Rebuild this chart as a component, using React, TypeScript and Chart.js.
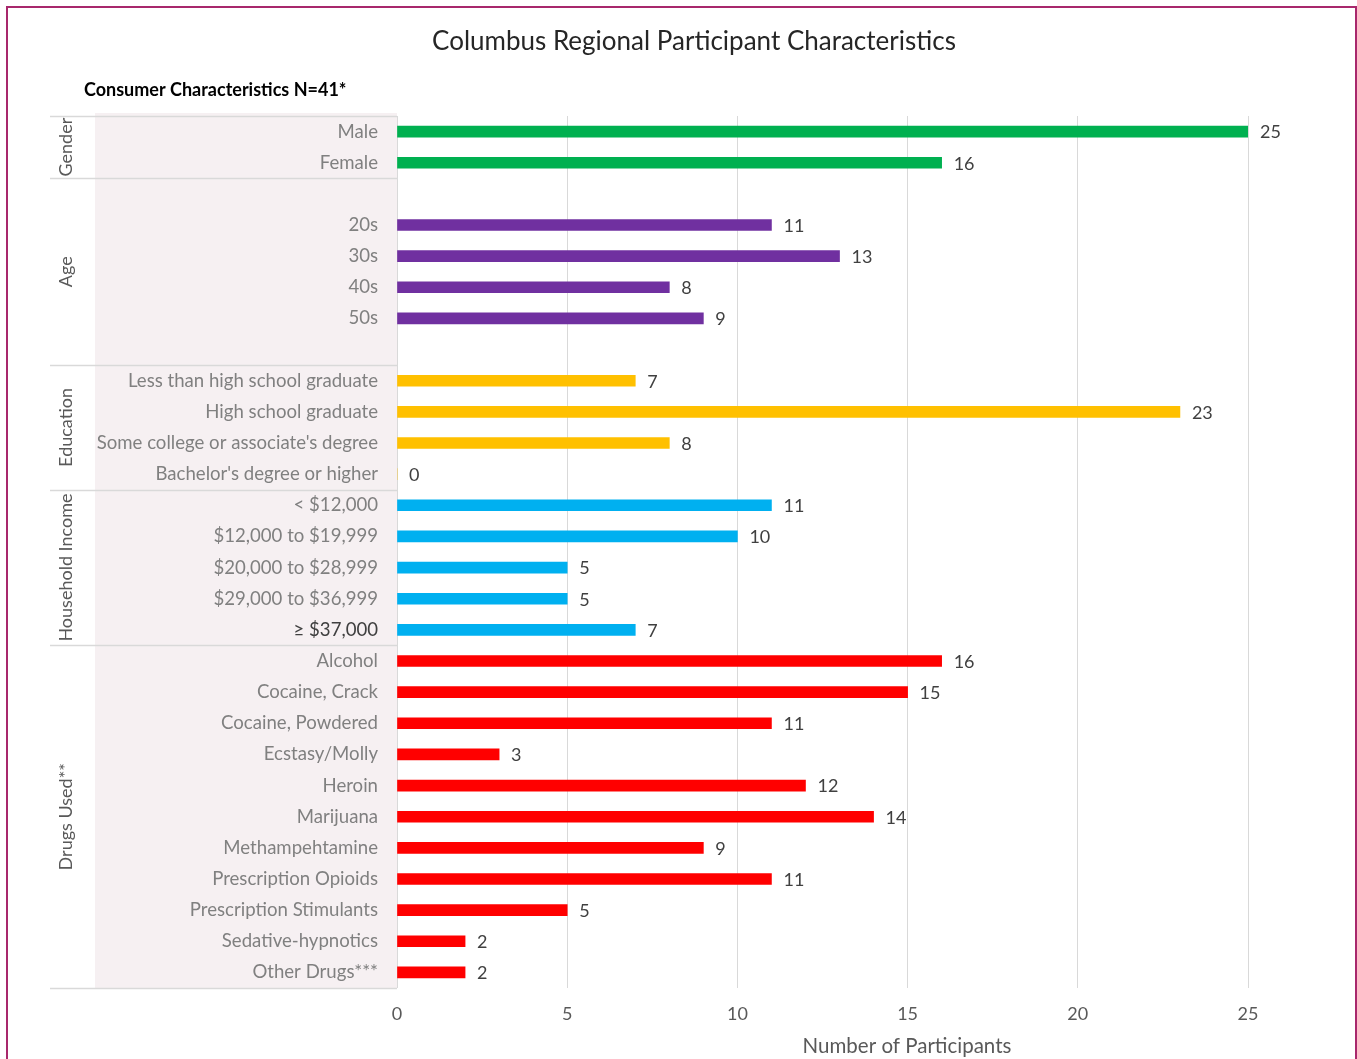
import React, { useEffect, useRef } from 'react';
import { Chart, registerables } from 'chart.js';

Chart.register(...registerables);

const chartTitle = 'Columbus Regional Participant Characteristics';
const subTitle = 'Consumer Characteristics N=41*';
const axisTitle = 'Number of Participants';

const genderLabels = ['Male', 'Female'];
const genderValues = [25, 16];
const ageLabels = ['20s', '30s', '40s', '50s'];
const ageValues = [11, 13, 8, 9];
const educationLabels = [
  'Less than high school graduate',
  'High school graduate',
  "Some college or associate's degree",
  "Bachelor's degree or higher",
];
const educationValues = [7, 23, 8, 0];
const incomeLabels = ['< $12,000', '$12,000 to $19,999', '$20,000 to $28,999', '$29,000 to $36,999', '≥ $37,000'];
const incomeValues = [11, 10, 5, 5, 7];
const drugLabels = [
  'Alcohol',
  'Cocaine, Crack',
  'Cocaine, Powdered',
  'Ecstasy/Molly',
  'Heroin',
  'Marijuana',
  'Methampehtamine',
  'Prescription Opioids',
  'Prescription Stimulants',
  'Sedative-hypnotics',
  'Other Drugs***',
];
const drugValues = [16, 15, 11, 3, 12, 14, 9, 11, 5, 2, 2];
const xTicks = [0, 5, 10, 15, 20, 25];

const groups = [
  { name: 'Gender', labels: genderLabels, values: genderValues, color: '#00B050', blankBefore: 0, blankAfter: 0 },
  { name: 'Age', labels: ageLabels, values: ageValues, color: '#7030A0', blankBefore: 1, blankAfter: 1 },
  { name: 'Education', labels: educationLabels, values: educationValues, color: '#FFC000', blankBefore: 0, blankAfter: 0 },
  { name: 'Household Income', labels: incomeLabels, values: incomeValues, color: '#00B0F0', blankBefore: 0, blankAfter: 0 },
  { name: 'Drugs Used**', labels: drugLabels, values: drugValues, color: '#FF0000', blankBefore: 0, blankAfter: 0 },
];

const rowLabels: string[] = [];
const rowValues: (number | null)[] = [];
const rowColors: string[] = [];
const groupRanges: { name: string; start: number; end: number }[] = [];
groups.forEach((g) => {
  const start = rowLabels.length;
  for (let i = 0; i < g.blankBefore; i++) { rowLabels.push(''); rowValues.push(null); rowColors.push(g.color); }
  g.labels.forEach((l, i) => { rowLabels.push(l); rowValues.push(g.values[i]); rowColors.push(g.color); });
  for (let i = 0; i < g.blankAfter; i++) { rowLabels.push(''); rowValues.push(null); rowColors.push(g.color); }
  groupRanges.push({ name: g.name, start, end: rowLabels.length });
});

const FONT = 'Lato';

const decorPlugin = {
  id: 'decor',
  beforeDraw(chart: any) {
    const { ctx, chartArea, scales } = chart;
    const y = scales.y;
    const half = (y.getPixelForValue(1) - y.getPixelForValue(0)) / 2;
    const W = chart.width;
    const H = chart.height;
    ctx.save();
    ctx.fillStyle = '#ffffff';
    ctx.fillRect(0, 0, W, H);
    // label band
    ctx.fillStyle = '#F6F0F2';
    ctx.fillRect(95, chartArea.top - 3, chartArea.left - 95, chartArea.bottom - chartArea.top + 4);
    // group separators
    ctx.strokeStyle = '#D9D9D9';
    ctx.lineWidth = 1.5;
    const bounds = new Set<number>();
    groupRanges.forEach((g) => { bounds.add(g.start); bounds.add(g.end); });
    bounds.forEach((idx) => {
      const py = idx === 0 ? chartArea.top : idx >= rowLabels.length ? chartArea.bottom : y.getPixelForValue(idx) - half;
      ctx.beginPath();
      ctx.moveTo(50, Math.round(py) + 0.5);
      ctx.lineTo(chartArea.left, Math.round(py) + 0.5);
      ctx.stroke();
    });
    // group labels
    ctx.fillStyle = '#595959';
    ctx.font = `18px ${FONT}`;
    ctx.textAlign = 'center';
    ctx.textBaseline = 'middle';
    groupRanges.forEach((g) => {
      const top = g.start === 0 ? chartArea.top : y.getPixelForValue(g.start) - half;
      const bot = g.end >= rowLabels.length ? chartArea.bottom : y.getPixelForValue(g.end) - half;
      ctx.save();
      ctx.translate(66, (top + bot) / 2);
      ctx.rotate(-Math.PI / 2);
      ctx.fillText(g.name, 0, 0);
      ctx.restore();
    });
    // title
    ctx.fillStyle = '#262626';
    ctx.font = `26px ${FONT}`;
    ctx.textAlign = 'center';
    ctx.fillText(chartTitle, 694, 42);
    // subtitle
    ctx.fillStyle = '#000000';
    ctx.font = `bold 18px ${FONT}`;
    ctx.textAlign = 'left';
    ctx.fillText(subTitle, 84, 90);
    // border
    ctx.strokeStyle = '#A8286C';
    ctx.lineWidth = 2;
    ctx.beginPath();
    ctx.moveTo(7, H + 5);
    ctx.lineTo(7, 7);
    ctx.lineTo(1356, 7);
    ctx.lineTo(1356, H + 5);
    ctx.stroke();
    ctx.restore();
  },
  afterDraw(chart: any) {
    const { ctx } = chart;
    const meta = chart.getDatasetMeta(0);
    ctx.save();
    ctx.font = `18px ${FONT}`;
    ctx.fillStyle = '#404040';
    ctx.textAlign = 'left';
    ctx.textBaseline = 'middle';
    meta.data.forEach((el: any, i: number) => {
      const v = rowValues[i];
      if (v === null || v === undefined) return;
      ctx.fillText(String(v), el.x + 12, el.y + 1);
    });
    ctx.fillStyle = '#595959';
    ctx.font = `20.5px ${FONT}`;
    ctx.textAlign = 'center';
    ctx.fillText(axisTitle, 907, 1046);
    ctx.restore();
  },
};

export default function App() {
  const canvasRef = useRef<HTMLCanvasElement | null>(null);

  useEffect(() => {
    document.body.style.margin = '0';
    const canvas = canvasRef.current;
    if (!canvas) return;
    const chart = new Chart(canvas, {
      type: 'bar',
      data: {
        labels: rowLabels,
        datasets: [
          {
            data: rowValues as any,
            backgroundColor: rowColors,
            barThickness: 11,
          },
        ],
      },
      options: {
        indexAxis: 'y',
        responsive: false,
        animation: false,
        devicePixelRatio: 1,
        layout: { padding: { top: 116, right: 109, left: 0, bottom: 0 } },
        plugins: {
          legend: { display: false },
          tooltip: { enabled: false },
          title: { display: false },
        },
        scales: {
          x: {
            type: 'linear',
            min: 0,
            max: 25,
            afterBuildTicks: (scale: any) => {
              scale.ticks = xTicks.map((v) => ({ value: v }));
            },
            afterFit: (scale: any) => {
              scale.height = 71;
            },
            grid: { color: '#D9D9D9', lineWidth: 1, drawTicks: false },
            border: { display: false },
            ticks: {
              padding: 15,
              color: '#595959',
              font: { family: FONT, size: 18 },
            },
          },
          y: {
            type: 'category',
            afterFit: (scale: any) => {
              scale.width = 397;
            },
            grid: { display: false, drawTicks: false },
            border: { display: false },
            ticks: {
              padding: 19,
              autoSkip: false,
              color: (c: any) => (c.index === 16 ? '#404040' : '#808080'),
              font: { family: FONT, size: 18.6 },
            },
          },
        },
      },
      plugins: [decorPlugin],
    });
    return () => chart.destroy();
  }, []);

  return (
    <div style={{ width: 1357, height: 1059 }}>
      <canvas ref={canvasRef} width={1357} height={1059} style={{ display: 'block' }} />
    </div>
  );
}
